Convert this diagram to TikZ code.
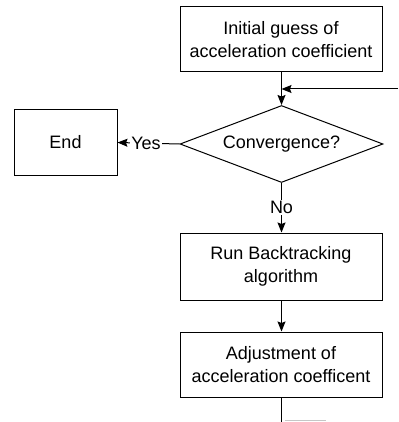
\documentclass[tikz,border=0pt]{standalone}
\usepackage{fontspec}
\setmainfont{Liberation Sans}
\usetikzlibrary{shapes.geometric,arrows.meta}
\begin{document}
\begin{tikzpicture}[x=1pt,y=-1pt,
  every node/.style={font=\fontsize{18}{22.4}\selectfont},
  procbox/.style={draw, line width=1pt, rectangle, align=center, inner sep=0pt},
  decide/.style={draw, line width=1pt, diamond, aspect=2.64, inner sep=0pt,
                 minimum width=203pt, minimum height=77pt},
  flow/.style={line width=1pt, -{Stealth[length=10pt,width=8pt,inset=1.5pt]}},
  plain/.style={line width=1pt},
  lbl/.style={fill=white, inner sep=1pt}]
\useasboundingbox (0,0) rectangle (398,422);
\node[procbox, minimum width=202pt, minimum height=65pt] (init) at (281,39.5)
  {Initial guess of\\acceleration coefficient};
\node[decide] (conv) at (281.5,144) {Convergence?};
\node[procbox, minimum width=103pt, minimum height=65pt] (end) at (65.5,142.5) {End};
\node[procbox, minimum width=202pt, minimum height=67pt] (run) at (281,266.5)
  {Run Backtracking\\algorithm};
\node[procbox, minimum width=202pt, minimum height=65pt] (adj) at (281,364.5)
  {Adjustment of\\acceleration coefficent};
\coordinate (fbin) at (398,89);
\coordinate (fbjoin) at (281.5,89);
\coordinate (bot) at (281.5,422);
\coordinate (stubA) at (285,420.5);
\coordinate (stubB) at (326,420.5);
\draw[flow] (init.south -| conv.north) -- (conv.north);
\draw[flow] (fbin) -- (fbjoin);
\draw[flow] (conv.west) -- node[lbl, pos=0.54]{Yes} (end.east);
\draw[flow] (conv.south) -- node[lbl, pos=0.5]{No} (run.north -| conv.south);
\draw[flow] (run.south -| conv.south) -- (adj.north -| conv.south);
\draw[plain] (adj.south -| conv.south) -- (bot);
\draw[line width=0.8pt, gray!45] (stubA) -- (stubB);
\end{tikzpicture}
\end{document}
